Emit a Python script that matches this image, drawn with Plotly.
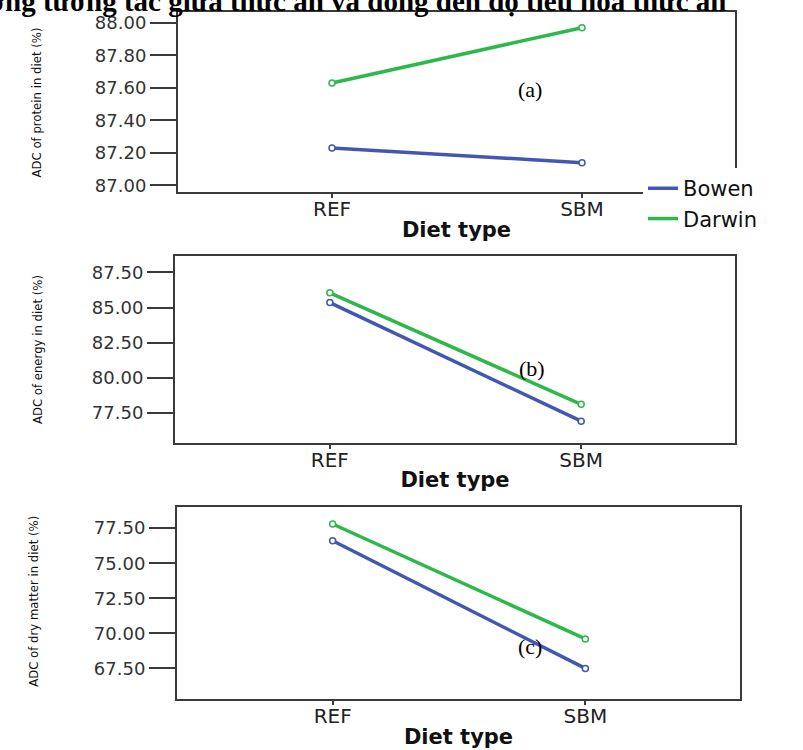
import plotly.graph_objects as go

diet_types = ["REF", "SBM"]
series_names = ["Bowen", "Darwin"]
protein_bowen = [87.23, 87.14]
protein_darwin = [87.63, 87.97]
energy_bowen = [85.35, 76.9]
energy_darwin = [86.05, 78.1]
drymatter_bowen = [76.6, 67.5]
drymatter_darwin = [77.8, 69.6]

panel_titles = ["ADC of protein in diet (%)", "ADC of energy in diet (%)", "ADC of dry matter in diet (%)"]
panel_labels = ["(a)", "(b)", "(c)"]
title_text = "Ảnh hưởng tương tác giữa thức ăn và dòng đến độ tiêu hóa thức ăn"

W, H = 803, 750
colors = {"Bowen": "#4257B2", "Darwin": "#2DB84B"}

boxes = [(178, 735, 12, 193), (175, 735, 257, 445), (177, 740, 510, 703)]
yranges = [(86.96, 88.067), (75.37, 88.7), (65.3, 78.99)]
ytickvals = [[87.0, 87.2, 87.4, 87.6, 87.8, 88.0],
             [77.5, 80.0, 82.5, 85.0, 87.5],
             [67.5, 70.0, 72.5, 75.0, 77.5]]
data = [(protein_bowen, protein_darwin), (energy_bowen, energy_darwin), (drymatter_bowen, drymatter_darwin)]

fig = go.Figure()
tickfont = dict(family="DejaVu Sans", size=18, color="#333333")
axcol = "#3a3a3a"

for i, (box, yr, tv, (b, d)) in enumerate(zip(boxes, yranges, ytickvals, data)):
    n = "" if i == 0 else str(i + 1)
    x0, x1, yt, yb = box
    for name, vals in zip(series_names, [b, d]):
        fig.add_trace(go.Scatter(
            x=diet_types, y=vals, mode="lines", name=name,
            line=dict(color=colors[name], width=3.5),
            xaxis="x" + n, yaxis="y" + n, showlegend=(i == 0)))
        fig.add_trace(go.Scatter(
            x=diet_types, y=vals, mode="markers", name=name,
            marker=dict(size=6, color="white", line=dict(color=colors[name], width=1.5)),
            xaxis="x" + n, yaxis="y" + n, showlegend=False))
    fig.update_layout(**{
        "xaxis" + n: dict(
            domain=[x0 / W, x1 / W], anchor="y" + n, type="category",
            range=[-0.616, 1.612], showline=True, mirror=True, linecolor=axcol, linewidth=2,
            ticks="outside", ticklen=4, tickwidth=1.5, tickcolor=axcol,
            showgrid=False, zeroline=False, ticklabelstandoff=-6,
            tickfont=dict(family="DejaVu Sans", size=20, color="#222222"),
            title=dict(text="<b>Diet type</b>", font=dict(family="DejaVu Sans", size=21, color="#111111"),
                       standoff=2)),
        "yaxis" + n: dict(
            domain=[1 - yb / H, 1 - yt / H], anchor="x" + n, range=list(yr),
            tickmode="array", tickvals=tv, tickformat=".2f",
            showline=True, mirror=True, linecolor=axcol, linewidth=2,
            ticks="outside", ticklen=26, tickwidth=2, tickcolor=axcol,
            showgrid=False, zeroline=False, tickfont=tickfont),
    })

ytitle_pos = [(36, 103), (37, 352), (34, 605)]
for txt, (px, py) in zip(panel_titles, ytitle_pos):
    fig.add_annotation(text=txt, x=px / W, y=1 - py / H, xref="paper", yref="paper",
                       xanchor="center", yanchor="middle",
                       showarrow=False, textangle=-90,
                       font=dict(family="DejaVu Sans Condensed, Liberation Sans", size=13, color="#111111"))

label_pos = [(530, 90), (532, 370), (530, 650)]
for txt, (px, py) in zip(panel_labels, label_pos):
    fig.add_annotation(text=txt, x=px / W, y=1 - py / H, xref="paper", yref="paper",
                       xanchor="center", yanchor="middle",
                       showarrow=False, font=dict(family="Liberation Serif", size=22, color="black"))

fig.add_annotation(text="<b>" + title_text + "</b>", x=728 / W, y=1 - 1 / H, xref="paper", yref="paper",
                   xanchor="right", yanchor="middle", showarrow=False,
                   font=dict(family="Liberation Serif", size=29, color="black"))

fig.update_layout(
    width=W, height=H, margin=dict(l=0, r=0, t=0, b=0),
    plot_bgcolor="white", paper_bgcolor="white",
    legend=dict(x=643 / W, y=1 - 169 / H, xanchor="left", yanchor="top",
                bgcolor="white", font=dict(family="DejaVu Sans", size=21, color="#111111"),
                tracegroupgap=0, itemwidth=30),
)

fig.write_html("out.html", post_script="document.body.style.margin='0';",
               config={"displayModeBar": False})
